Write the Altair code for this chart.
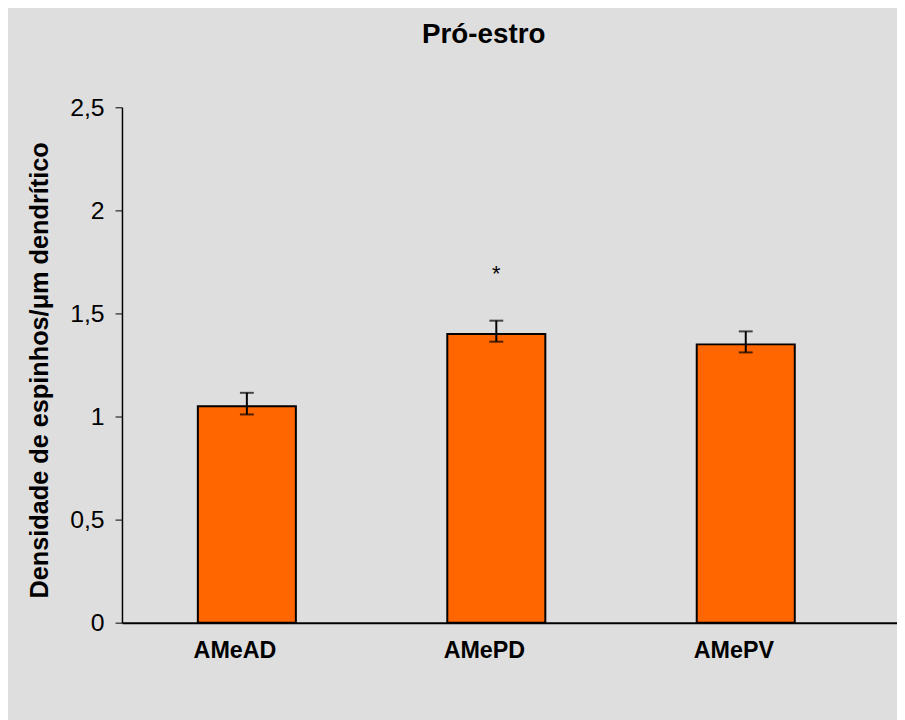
import altair as alt
import pandas as pd

title_text = ["Pr\u00f3-estro"]
categories = ["AMeAD", "AMePD", "AMePV"]
means = [1.05, 1.40, 1.35]
upper = [1.115, 1.465, 1.413]
lower = [1.01, 1.363, 1.311]
marks = ["", "*", ""]
y_ticks = [0, 0.5, 1, 1.5, 2, 2.5]

df = pd.DataFrame({"cat": categories, "mean": means, "upper": upper,
                   "lower": lower, "mark": marks})
df_title = pd.DataFrame({"t": title_text})

FONT = "Liberation Sans"

x_enc = alt.X("cat:N", sort=categories,
              scale=alt.Scale(paddingInner=0.607, paddingOuter=0.357, align=0.426),
              axis=alt.Axis(title=None, labelAngle=0, ticks=False, domainColor="black",
                            domainWidth=2, labelFont=FONT, labelFontSize=23.5,
                            labelFontWeight="bold", labelColor="black",
                            labelPadding=16, labelOffset=-12))

y_scale = alt.Scale(domain=[0, 2.5], nice=False)

bars = alt.Chart(df).mark_bar(color="#FF6600", stroke="black", strokeWidth=2).encode(
    x=x_enc,
    y=alt.Y("mean:Q", scale=y_scale,
            axis=alt.Axis(values=y_ticks, grid=False, domainColor="black", domainWidth=1.5,
                          tickColor="black", tickSize=7, tickWidth=1,
                          labelExpr="replace(toString(datum.value), '.', ',')",
                          labelFont=FONT, labelFontSize=25, labelColor="black",
                          labelPadding=11,
                          title="Densidade de espinhos/\u03bcm dendr\u00edtico",
                          titleFont=FONT, titleFontSize=25.5, titleFontWeight="bold",
                          titleColor="black", titleAngle=-90, titleX=-83, titleY=265,
                          titleAlign="center", titleBaseline="middle")),
)

rules = alt.Chart(df).mark_rule(color="black", strokeWidth=2).encode(
    x=alt.X("cat:N", sort=categories),
    y=alt.Y("lower:Q", scale=y_scale),
    y2="upper:Q",
)

cap_hi = alt.Chart(df).mark_tick(color="black", thickness=2, size=14, orient="horizontal").encode(
    x=alt.X("cat:N", sort=categories),
    y=alt.Y("upper:Q", scale=y_scale),
)
cap_lo = alt.Chart(df).mark_tick(color="black", thickness=2, size=14, orient="horizontal").encode(
    x=alt.X("cat:N", sort=categories),
    y=alt.Y("lower:Q", scale=y_scale),
)

star = alt.Chart(df).mark_text(font=FONT, fontSize=22, color="black", dy=-40,
                               baseline="alphabetic").encode(
    x=alt.X("cat:N", sort=categories),
    y=alt.Y("upper:Q", scale=y_scale),
    text="mark:N",
)

title = alt.Chart(df_title).mark_text(font=FONT, fontSize=28, fontWeight="bold",
                                      color="black", baseline="alphabetic",
                                      align="center").encode(
    text="t:N",
    x=alt.value(365),
    y=alt.value(-65),
)

chart = alt.layer(bars, rules, cap_hi, cap_lo, star, title).properties(
    width=782, height=520,
    background="#DEDEDE",
    autosize=alt.AutoSizeParams(type="none"),
    padding={"left": 115, "top": 97, "right": 0, "bottom": 95},
).configure_view(stroke=None)

chart.save("out.html", embed_options={"renderer": "svg", "actions": False})
